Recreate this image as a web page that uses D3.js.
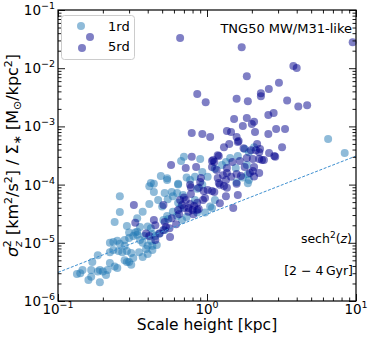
<!DOCTYPE html>
<html><head><meta charset="utf-8">
<script src="https://cdn.jsdelivr.net/npm/d3@7"></script>
<style>body{margin:0;background:#fff}svg{display:block;font-family:"DejaVu Sans",sans-serif}</style>
</head><body>
<svg id="chart" width="374" height="337"></svg>
<script>
const seriesNames = ["1rd", "5rd"];
const seriesColors = ["#1f77b4", "#00008b"];
const rd1 = [[6.5,0.00061],[8.4,0.00035],[1.79,0.00041],[1.91,0.00036],[0.7,0.0003],[0.67,0.000255],[0.9,0.000275],[1.34,0.000245],[1.85,0.000217],[1.56,0.000193],[0.93,0.000164],[0.49,0.00014],[0.54,0.000129],[0.73,0.000133],[1.74,0.000133],[1.91,0.00012],[0.64,0.000103],[0.44,0.000103],[0.42,0.000107],[0.58,0.0000745],[0.63,0.000072],[0.69,0.000066],[0.44,0.0000745],[2.07,0.00044],[0.41,0.000094],[0.93,0.000099],[0.86,0.000085],[1.05,0.000042],[1.08,0.0000395],[0.545,0.000056],[0.5,0.000042],[0.64,0.000049],[0.66,0.0000395],[0.59,0.000034],[0.63,0.000029],[0.54,0.000029],[0.55,0.0000256],[0.51,0.0000246],[0.4,0.000019],[0.42,0.0000178],[0.38,0.0000131],[0.43,0.0000141],[0.45,0.0000131],[0.48,0.0000145],[0.52,0.0000166],[0.68,0.0000246],[0.73,0.0000277],[0.86,0.000033],[0.3,0.0000151],[0.34,0.0000155],[0.26,0.000063],[0.26,0.0000337],[0.24,0.0000228],[0.33,0.0000151],[0.355,0.0000187],[0.223,0.00001],[0.235,0.0000103],[0.25,0.0000108],[0.26,0.0000096],[0.28,0.0000089],[0.223,0.0000069],[0.235,0.0000075],[0.255,0.0000072],[0.27,0.0000069],[0.29,0.0000072],[0.31,0.0000067],[0.185,0.0000061],[0.146,0.0000034],[0.141,0.000003],[0.167,0.0000034],[0.167,0.0000026],[0.191,0.0000034],[0.2,0.0000032],[0.215,0.0000034],[0.223,0.0000045],[0.24,0.0000039],[0.25,0.0000037],[0.191,0.0000021],[0.21,0.0000028],[0.29,0.0000047],[0.3,0.0000047],[0.31,0.0000042],[0.37,0.0000057],[0.4,0.0000064],[0.43,0.0000075],[0.46,0.0000092],[0.134,0.0000029],[0.16,0.0000023],[0.185,0.0000032],[0.17,0.0000047],[0.28,0.000005],[0.32,0.0000055],[0.35,0.0000069],[0.39,0.0000078],[0.3,0.0000121],[0.32,0.0000131],[0.34,0.0000137],[0.37,0.00001],[0.4,0.0000089],[0.43,0.0000089],[0.42,0.0000108],[0.64,0.0001],[0.54,0.00012],[1.58,0.00011],[1.88,0.00015],[1.88,0.000105],[0.77,0.00012],[0.83,0.000137],[1.01,0.000137],[1.13,0.000187],[1.26,0.000217],[1.43,0.000286],[1.61,0.00031],[0.59,0.000063],[0.52,0.000072],[0.47,0.0000543],[0.41,0.0000465],[0.37,0.000034],[0.34,0.0000265],[0.29,0.0000194],[0.28,0.0000112],[0.355,0.0000112],[0.97,0.000033],[1.13,0.0000543],[0.83,0.0000543]];
const rd5 = [[0.66,0.033],[1.71,0.023],[9.5,0.028],[3.8,0.0109],[4.0,0.0101],[1.85,0.0073],[3.04,0.0056],[2.6,0.0044],[2.3,0.0037],[2.3,0.0033],[0.86,0.0036],[1.58,0.0030],[1.88,0.0027],[3.45,0.0028],[0.98,0.0026],[4.1,0.0022],[4.7,0.0023],[2.8,0.0017],[2.58,0.00157],[1.85,0.0014],[1.52,0.00134],[2.07,0.0012],[2.0,0.0011],[1.74,0.00102],[3.34,0.0009],[2.91,0.0009],[1.36,0.00083],[1.45,0.0008],[0.79,0.00077],[0.93,0.00074],[1.05,0.00066],[2.1,0.0008],[2.58,0.00074],[1.58,0.00066],[1.63,0.00056],[1.41,0.0005],[1.3,0.00044],[3.19,0.00044],[2.17,0.0005],[1.97,0.00039],[2.13,0.00039],[2.27,0.00041],[2.61,0.00035],[2.83,0.00031],[2.87,0.0003],[2.41,0.000265],[2.24,0.000275],[2.03,0.000275],[1.85,0.000286],[1.2,0.00031],[1.1,0.000265],[1.12,0.000245],[0.79,0.0003],[1.66,0.000255],[1.48,0.000245],[0.574,0.000217],[0.72,0.000193],[0.845,0.0002],[1.08,0.0002],[1.16,0.000178],[2.07,0.0002],[1.36,0.000158],[1.58,0.000152],[1.69,0.00014],[1.94,0.000158],[1.18,0.00013],[1.28,0.000145],[0.91,0.00013],[1.58,0.000103],[2.03,0.000171],[2.07,0.000138],[0.77,0.000099],[0.78,0.000089],[1.22,0.000099],[1.3,0.000095],[1.36,0.000088],[0.88,0.000088],[0.95,0.0000775],[1.12,0.0000745],[1.61,0.000066],[1.34,0.000063],[0.78,0.000069],[1.61,0.00054],[1.08,0.000255],[1.18,0.00032],[1.36,0.000193],[2.24,0.000158],[0.9,0.000111],[1.08,0.0000775],[1.2,0.000107],[1.22,0.000048],[0.323,0.0000446],[1.5,0.0000395],[0.77,0.0000465],[0.82,0.000043],[0.86,0.0000366],[0.8,0.0000366],[0.75,0.0000395],[0.86,0.000049],[0.7,0.0000395],[0.44,0.0000246],[0.45,0.00002],[0.33,0.000022],[0.565,0.0000126],[0.51,0.0000446],[0.45,0.0000112],[0.48,0.0000145],[0.51,0.0000166],[0.53,0.0000187],[0.39,0.0000145],[0.41,0.0000131],[0.66,0.0000543],[0.7,0.00006],[0.64,0.0000366],[0.94,0.0000543],[0.68,0.0000446],[0.75,0.000034],[0.81,0.000031],[0.88,0.000038],[0.72,0.0000543],[0.65,0.000031],[0.58,0.0000265],[0.62,0.0000209],[0.52,0.0000228],[0.56,0.0000178],[0.97,0.0000586],[1.01,0.0000807],[1.34,0.00012],[1.45,0.000137],[1.79,0.0002],[2.34,0.000265],[2.24,0.00036],[1.76,0.00042]];
const fitX = [0.1, 10];
const fitY = [3.1e-6, 3.1e-4];
const xTickExps = [-1, 0, 1];
const yTickExps = [-6, -5, -4, -3, -2, -1];

const L = 58, R = 356, T = 10, B = 301;
const svg = d3.select("#chart");
const x = d3.scaleLog().domain([0.1, 10]).range([L, R]);
const y = d3.scaleLog().domain([1e-6, 1e-1]).range([B, T]);

// scatter
[rd1, rd5].forEach((data, i) => {
  svg.append("g").selectAll("circle").data(data).join("circle")
    .attr("cx", d => x(d[0])).attr("cy", d => y(d[1])).attr("r", 4)
    .attr("fill", seriesColors[i]).attr("fill-opacity", 0.5);
});

// fit line
svg.append("path")
  .attr("d", d3.line().x(d => x(d[0])).y(d => y(d[1]))(fitX.map((v, i) => [v, fitY[i]])))
  .attr("fill", "none").attr("stroke", "#3d8fd0").attr("stroke-width", 1).attr("stroke-dasharray", "3,1.6");

// ticks
function minors(exps) {
  const out = [];
  for (let i = 0; i < exps.length - 1; i++) for (let k = 2; k <= 9; k++) out.push(k * Math.pow(10, exps[i]));
  return out;
}
const xMaj = xTickExps.map(e => Math.pow(10, e)), yMaj = yTickExps.map(e => Math.pow(10, e));
const xMin = minors(xTickExps), yMin = minors(yTickExps);
function axis(gen, tr, vals, size) {
  svg.append("g").attr("transform", tr)
    .call(gen.tickValues(vals).tickSize(size).tickSizeOuter(0).tickFormat(() => ""))
    .call(g => g.select(".domain").remove())
    .selectAll("line").attr("stroke", "#000").attr("stroke-width", 0.9);
}
axis(d3.axisBottom(x), `translate(0,${B})`, xMaj, -7);
axis(d3.axisBottom(x), `translate(0,${B})`, xMin, -3.5);
axis(d3.axisTop(x), `translate(0,${T})`, xMaj, -7);
axis(d3.axisTop(x), `translate(0,${T})`, xMin, -3.5);
axis(d3.axisLeft(y), `translate(${L},0)`, yMaj, -7);
axis(d3.axisLeft(y), `translate(${L},0)`, yMin, -3.5);
axis(d3.axisRight(y), `translate(${R},0)`, yMaj, -7);
axis(d3.axisRight(y), `translate(${R},0)`, yMin, -3.5);

svg.append("rect").attr("x", L).attr("y", T).attr("width", R - L).attr("height", B - T)
  .attr("fill", "none").attr("stroke", "#000").attr("stroke-width", 1.2);

// tick labels
function powLabel(sel, e) {
  sel.append("tspan").text("10");
  sel.append("tspan").attr("dy", -6).attr("font-size", 9.5).text(e < 0 ? "\u2212" + (-e) : String(e));
}
xTickExps.forEach(e => {
  const t = svg.append("text").attr("x", x(Math.pow(10, e))).attr("y", 314).attr("text-anchor", "middle").attr("font-size", 13.5);
  powLabel(t, e);
});
yTickExps.forEach(e => {
  const t = svg.append("text").attr("x", 55).attr("y", y(Math.pow(10, e)) + 5).attr("text-anchor", "end").attr("font-size", 13.5);
  powLabel(t, e);
});

// axis labels
svg.append("text").attr("x", (L + R) / 2).attr("y", 330).attr("text-anchor", "middle").attr("font-size", 15.5).text("Scale height [kpc]");
const yl = svg.append("text").attr("transform", `translate(17.5,${(T + B) / 2}) rotate(-90)`).attr("text-anchor", "middle").attr("font-size", 16);
const parts = [
  ["\u03c3", 0, 0, null, "italic"], ["z", 0, 4, 11, "italic"], ["2", -6, -11, 11, null],
  [" [km", 0, 7, null, null], ["2", 0, -6, 11, null], ["/s", 0, 6, null, null], ["2", 0, -6, 11, null],
  ["] / \u03a3", 0, 6, null, null], ["\u2217", 0, 3, 11, null], [" [M", 0, -3, null, null],
  ["\u2299", 0, 3, 11, null], ["/kpc", 0, -3, null, null], ["2", 0, -6, 11, null], ["]", 0, 6, null, null]
];
parts.forEach(p => {
  const s = yl.append("tspan").text(p[0]);
  if (p[1]) s.attr("dx", p[1]);
  if (p[2]) s.attr("dy", p[2]);
  if (p[3]) s.attr("font-size", p[3]);
  if (p[4]) s.attr("font-style", p[4]);
});

// annotations
svg.append("text").attr("x", 352).attr("y", 33).attr("text-anchor", "end").attr("font-size", 13).text("TNG50 MW/M31-like");
const s1 = svg.append("text").attr("x", 352).attr("y", 243).attr("text-anchor", "end").attr("font-size", 12.5);
s1.append("tspan").text("sech");
s1.append("tspan").attr("dy", -5).attr("font-size", 9).text("2");
s1.append("tspan").attr("dy", 5).text("(");
s1.append("tspan").attr("font-style", "italic").text("z");
s1.append("tspan").text(")");
svg.append("text").attr("x", 353).attr("y", 275).attr("text-anchor", "end").attr("font-size", 12.5).text("[2 \u2212 4\u2009Gyr]");

// legend
const lg = svg.append("g");
lg.append("rect").attr("x", 61.5).attr("y", 15.5).attr("width", 73).attr("height", 44).attr("rx", 3)
  .attr("fill", "#fff").attr("fill-opacity", 0.8).attr("stroke", "#ccc").attr("stroke-width", 1);
const legendDots = [[[81, 26]], [[90, 37], [82, 48]]];
legendDots.forEach((pts, i) => pts.forEach(p => lg.append("circle").attr("cx", p[0]).attr("cy", p[1]).attr("r", 4)
  .attr("fill", seriesColors[i]).attr("fill-opacity", 0.5)));
seriesNames.forEach((n, i) => lg.append("text").attr("x", 108).attr("y", 31 + i * 20).attr("font-size", 13).text(n));
</script>
</body></html>
